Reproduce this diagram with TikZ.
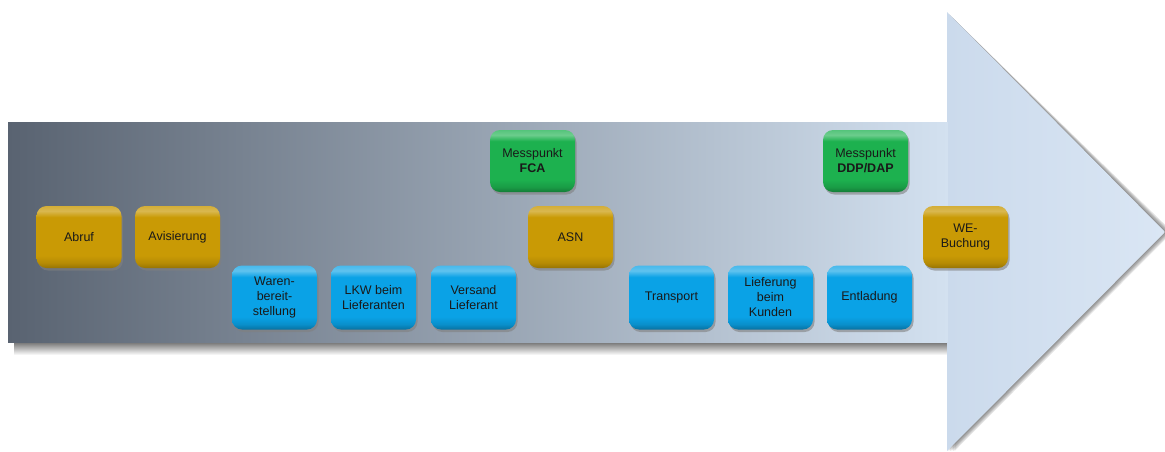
\documentclass[tikz,border=0pt]{standalone}
\usepackage{fontspec}
\setmainfont{Liberation Sans}
\usetikzlibrary{shadows}
\definecolor{shaftL}{HTML}{596371}
\definecolor{shaftR}{HTML}{D3E1F0}
\definecolor{headL}{HTML}{CBDAEC}
\definecolor{headR}{HTML}{DAE6F4}
\definecolor{goldC}{HTML}{C99A05}
\definecolor{blueC}{HTML}{0AA2E6}
\definecolor{greenC}{HTML}{1DB14F}
% glossy vertical shadings: highlight band on top, darker rim at the bottom
\pgfdeclareverticalshading{goldsh}{100bp}{color(0bp)=(goldC!75!black); color(25bp)=(goldC!75!black);
  color(29bp)=(goldC!90!black); color(35bp)=(goldC); color(66bp)=(goldC); color(71bp)=(goldC!70!white);
  color(75bp)=(goldC!80!white); color(100bp)=(goldC!80!white)}
\pgfdeclareverticalshading{bluesh}{100bp}{color(0bp)=(blueC!70!black); color(25bp)=(blueC!70!black);
  color(29bp)=(blueC!88!black); color(35bp)=(blueC); color(66bp)=(blueC); color(71bp)=(blueC!65!white);
  color(75bp)=(blueC!75!white); color(100bp)=(blueC!75!white)}
\pgfdeclareverticalshading{greensh}{100bp}{color(0bp)=(greenC!70!black); color(25bp)=(greenC!70!black);
  color(29bp)=(greenC!88!black); color(35bp)=(greenC); color(66bp)=(greenC); color(71bp)=(greenC!65!white);
  color(75bp)=(greenC!75!white); color(100bp)=(greenC!75!white)}
\tikzset{
  box/.style={rounded corners=10pt, minimum width=85pt, minimum height=62pt,
    inner sep=2pt, align=center, text=black!90,
    font=\fontsize{12.5}{15}\selectfont,
    drop shadow={shadow xshift=1.5pt, shadow yshift=-2.5pt, opacity=0.6}},
  gold/.style={box, shading=goldsh},
  blue/.style={box, minimum height=64pt, shading=bluesh},
  green/.style={box, shading=greensh},
}
\begin{document}
\begin{tikzpicture}[x=1pt, y=-1pt]
\useasboundingbox (0,0) rectangle (1165,451);
% soft shadow of the arrow head
\foreach \o in {1.5,3,4.5,6,7.5}
  \fill[black, opacity=0.1] (947+\o,12+\o) -- (1165+\o,232) -- (947+\o,451);
% shadow under the shaft
\shade[top color=black!55, bottom color=white] (14,342) rectangle (947,355);
% shaft and head of the process arrow
\shade[left color=shaftL, right color=shaftR] (8,122) rectangle (948,342);
\shade[left color=headL, right color=headR] (947,12) -- (1165,232) -- (947,451) -- cycle;
\fill[shaftR] (946,122) rectangle (948,342);

% process steps
\node[gold] (abruf) at (79,237) {Abruf};
\node[gold] (avis) at (177.5,237) {Avisierung};
\node[blue] (waren) at (274.5,297.5) {Waren-\\bereit-\\stellung};
\node[blue] (lkw) at (373.5,297.5) {LKW beim\\Lieferanten};
\node[blue] (versand) at (473.5,297.5) {Versand\\Lieferant};
\node[green] (fca) at (532.5,161) {Messpunkt\\\textbf{FCA}};
\node[gold] (asn) at (570.5,237) {ASN};
\node[blue] (transport) at (671.5,297.5) {Transport};
\node[blue] (liefer) at (770.5,297.5) {Lieferung\\beim\\Kunden};
\node[blue] (entl) at (869.5,297.5) {Entladung};
\node[green] (ddp) at (865.5,161) {Messpunkt\\\textbf{DDP/DAP}};
\node[gold] (we) at (965.5,237) {WE-\\Buchung};
\end{tikzpicture}
\end{document}
